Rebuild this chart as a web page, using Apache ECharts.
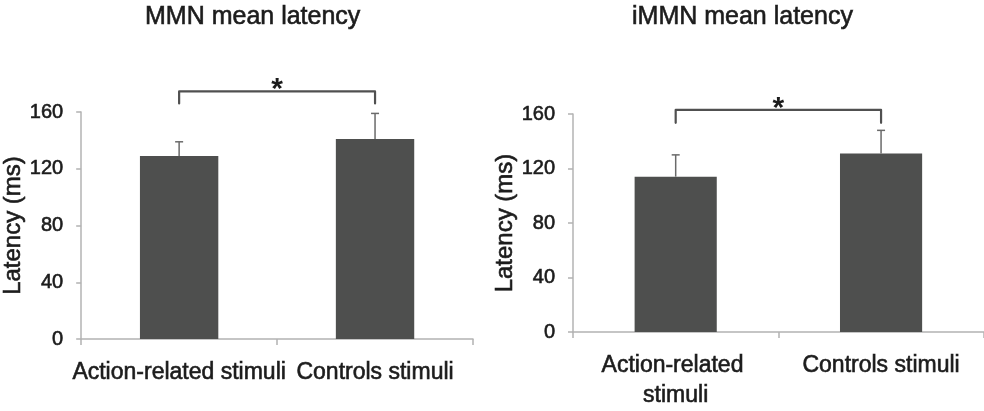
<!DOCTYPE html>
<html><head><meta charset="utf-8">
<script src="https://cdn.jsdelivr.net/npm/echarts@6/dist/echarts.min.js"></script>
<style>html,body{margin:0;padding:0;background:#fff}#c{width:984px;height:411px}</style>
</head><body><div id="c"></div>
<script>
const titles = ['MMN mean latency', 'iMMN mean latency'];
const categoriesMMN = ['Action-related stimuli', 'Controls stimuli'];
const categoriesIMMN = ['Action-related stimuli', 'Controls stimuli'];
const meanMMN = [129, 141];
const upperMMN = [139, 159];
const meanIMMN = [114, 131];
const upperIMMN = [130, 148];
const yTicks = [0, 40, 80, 120, 160];
const yAxisName = 'Latency (ms)';
// significance brackets: [fromIndex, toIndex, bracketValue, legEndValue, starValue, label]
const sigMMN = [[0, 1, 174.5, 166, 181, '*']];
const sigIMMN = [[0, 1, 163, 153.5, 170, '*']];

const FONT = 'Liberation Sans, Arial, sans-serif';
const TXT = '#1c1c1c';
const AXIS = '#b3b3b3';
const BAR = '#4e4f4e';
const ERR = '#6a6a6a';
const BRK = '#505050';
const EMB = {textBorderColor: TXT, textBorderWidth: 0.6};

function errRender(params, api) {
  const x = api.value(0), lo = api.value(1), hi = api.value(2);
  const p0 = api.coord([x, lo]);
  const p1 = api.coord([x, hi]);
  const cap = 4;
  return {type: 'group', children: [
    {type: 'line', shape: {x1: p0[0], y1: p0[1], x2: p1[0], y2: p1[1]}, style: {stroke: ERR, lineWidth: 1.5}},
    {type: 'line', shape: {x1: p1[0] - cap, y1: p1[1], x2: p1[0] + cap, y2: p1[1]}, style: {stroke: ERR, lineWidth: 1.5}}
  ]};
}
const sigData = {};
function sigRender(params, api) {
  const a = api.value(0), b = api.value(1), top = api.value(2), leg = api.value(3), star = api.value(4);
  const pa = api.coord([a, top]), pb = api.coord([b, top]);
  const la = api.coord([a, leg]), ps = api.coord([a, star]);
  const label = sigData[params.seriesIndex][params.dataIndex][5];
  return {type: 'group', children: [
    {type: 'polyline', shape: {points: [[pa[0], la[1]], [pa[0], pa[1]], [pb[0], pb[1]], [pb[0], la[1]]]},
     style: {stroke: BRK, lineWidth: 2.2, fill: null, lineJoin: 'round', lineCap: 'round'}},
    {type: 'text', x: (pa[0] + pb[0]) / 2, y: ps[1] + 8,
     style: {text: label, font: 'bold 30px ' + FONT, fill: TXT, align: 'center', verticalAlign: 'middle'}}
  ]};
}

function yAxis(gi) {
  return {
    type: 'value', gridIndex: gi, min: yTicks[0], max: yTicks[yTicks.length - 1], interval: yTicks[1] - yTicks[0],
    name: yAxisName, nameLocation: 'middle', nameRotate: 90, nameGap: 51,
    nameTextStyle: Object.assign({fontFamily: FONT, fontSize: 24, color: TXT}, EMB),
    axisLine: {show: true, lineStyle: {color: AXIS, width: 1.5}},
    axisTick: {show: true, length: 5, lineStyle: {color: AXIS, width: 1.5}},
    axisLabel: Object.assign({fontFamily: FONT, fontSize: 20, color: TXT, margin: 18}, EMB),
    splitLine: {show: false}
  };
}
function xAxis(gi, cats, wrap) {
  const lab = Object.assign({fontFamily: FONT, fontSize: 23, color: TXT, margin: 19, lineHeight: 30, interval: 0}, EMB);
  if (wrap) { lab.width = 200; lab.overflow = 'break'; }
  return {
    type: 'category', gridIndex: gi, data: cats,
    axisLine: {show: true, lineStyle: {color: AXIS, width: 1.5}},
    axisTick: {show: true, length: 6, lineStyle: {color: AXIS, width: 1.5}},
    axisLabel: lab
  };
}

const series = [
  {type: 'bar', xAxisIndex: 0, yAxisIndex: 0, data: meanMMN, barWidth: '40%', itemStyle: {color: BAR}, silent: true},
  {type: 'bar', xAxisIndex: 1, yAxisIndex: 1, data: meanIMMN, barWidth: '40%', itemStyle: {color: BAR}, silent: true},
  {type: 'custom', xAxisIndex: 0, yAxisIndex: 0, renderItem: errRender, clip: false, z: 3,
   data: meanMMN.map((v, i) => [i, v, upperMMN[i]])},
  {type: 'custom', xAxisIndex: 1, yAxisIndex: 1, renderItem: errRender, clip: false, z: 3,
   data: meanIMMN.map((v, i) => [i, v, upperIMMN[i]])},
  {type: 'custom', xAxisIndex: 0, yAxisIndex: 0, renderItem: sigRender, clip: false, z: 4,
   data: sigMMN.map(r => r.slice(0, 5))},
  {type: 'custom', xAxisIndex: 1, yAxisIndex: 1, renderItem: sigRender, clip: false, z: 4,
   data: sigIMMN.map(r => r.slice(0, 5))}
];
sigData[4] = sigMMN;
sigData[5] = sigIMMN;

const titleStyle = Object.assign({fontFamily: FONT, fontSize: 25, fontWeight: 'normal', color: TXT}, EMB);
const chart = echarts.init(document.getElementById('c'), null, {renderer: 'canvas'});
chart.setOption({
  animation: false,
  backgroundColor: '#fff',
  title: [
    {text: titles[0], left: 145, top: 5, padding: 0, textStyle: titleStyle},
    {text: titles[1], left: 632, top: 5, padding: 0, textStyle: titleStyle}
  ],
  grid: [
    {left: 78, right: 511, top: 112, bottom: 72},
    {left: 573, right: 0, top: 114, bottom: 71}
  ],
  xAxis: [xAxis(0, categoriesMMN, false), xAxis(1, categoriesIMMN, true)],
  yAxis: [yAxis(0), yAxis(1)],
  series: series
});
</script>
</body></html>
